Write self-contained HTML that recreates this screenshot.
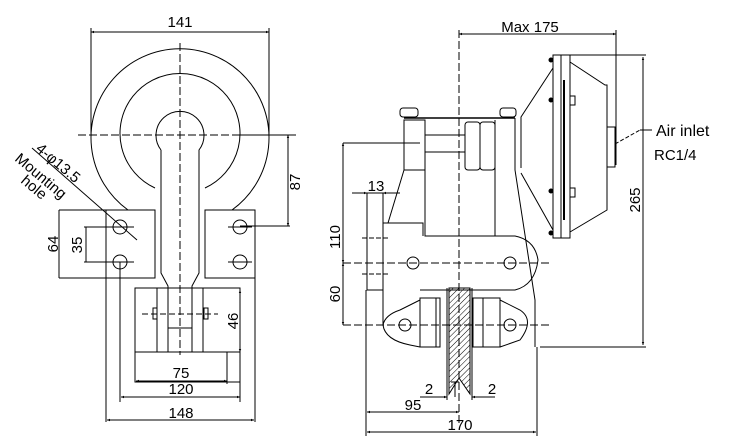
<!DOCTYPE html>
<html><head><meta charset="utf-8"><style>
html,body{margin:0;padding:0;background:#fff;}
svg{display:block}
text{font-family:"Liberation Sans",sans-serif;fill:#000}
</style></head><body>
<svg width="734" height="445" viewBox="0 0 734 445" xmlns="http://www.w3.org/2000/svg">
<defs>
<marker id="a" viewBox="0 0 10 10" refX="10" refY="5" markerWidth="5" markerHeight="3" orient="auto-start-reverse"><path d="M0,1 L10,5 L0,9z" fill="#000"/></marker>
<pattern id="h" width="4" height="4" patternUnits="userSpaceOnUse" patternTransform="rotate(45)"><line x1="0" y1="0" x2="0" y2="4" stroke="#000" stroke-width="1"/></pattern>
</defs>
<g fill="none" stroke="#000" stroke-width="1">
<line x1="91" y1="32" x2="269" y2="32" marker-start="url(#a)" marker-end="url(#a)"/>
<line x1="91" y1="28" x2="91" y2="134"/><line x1="269" y1="28" x2="269" y2="134"/>
<path d="M128,210 A89,89 0 1 1 232,210"/>
<path d="M155,188 A60,60 0 1 1 205,188"/>
<path d="M161,150 A24,24 0 1 1 199,150 L199,273 L192,286 L192,352 M161,150 L161,273 L168,286 L168,352"/>
<line x1="180" y1="43" x2="180" y2="355" stroke-dasharray="8,3"/>
<line x1="78" y1="135" x2="296" y2="135" stroke-dasharray="8,3"/>
<line x1="240" y1="135" x2="296" y2="135"/>
<rect x="106" y="210" width="49" height="68"/>
<line x1="59" y1="210" x2="106" y2="210"/><line x1="59" y1="278" x2="106" y2="278"/>
<rect x="205" y="210" width="50" height="68"/>
<line x1="106" y1="278" x2="106" y2="422"/>
<line x1="255" y1="278" x2="255" y2="422"/>
<circle cx="120" cy="227" r="7"/><circle cx="120" cy="262" r="7"/>
<circle cx="240" cy="227" r="7"/><circle cx="240" cy="262" r="7"/>
<line x1="108" y1="227" x2="134" y2="227"/><line x1="84" y1="262" x2="134" y2="262"/><line x1="84" y1="227" x2="108" y2="227"/>
<line x1="228" y1="227" x2="252" y2="227"/><line x1="228" y1="262" x2="252" y2="262"/>
<line x1="240" y1="226" x2="290" y2="226"/>
<line x1="288" y1="135" x2="288" y2="226" marker-start="url(#a)" marker-end="url(#a)"/>
<line x1="59" y1="210" x2="59" y2="278"/>
<line x1="86" y1="227" x2="86" y2="262"/>
<rect x="135" y="288" width="105" height="64"/>
<rect x="135" y="352" width="105" height="30"/>
<line x1="157" y1="288" x2="157" y2="352"/><line x1="203" y1="288" x2="203" y2="352"/>
<line x1="168" y1="328" x2="192" y2="328"/>
<line x1="142" y1="314" x2="218" y2="314" stroke-dasharray="6,3"/>
<rect x="153" y="308" width="4" height="11"/><rect x="204" y="308" width="4" height="11"/>
<line x1="240" y1="290" x2="240" y2="352" marker-start="url(#a)" marker-end="url(#a)"/>
<line x1="136" y1="381" x2="227" y2="381" marker-start="url(#a)" marker-end="url(#a)"/>
<line x1="227" y1="352" x2="227" y2="384"/>
<line x1="120" y1="262" x2="120" y2="402"/>
<line x1="121" y1="397" x2="240" y2="397" marker-start="url(#a)" marker-end="url(#a)"/>
<line x1="240" y1="382" x2="240" y2="402"/>
<line x1="107" y1="420" x2="254" y2="420" marker-start="url(#a)" marker-end="url(#a)"/>
<line x1="32" y1="148" x2="137" y2="240"/>
<line x1="459" y1="34" x2="616" y2="34" marker-start="url(#a)" marker-end="url(#a)"/>
<line x1="616" y1="30" x2="616" y2="165"/>
<line x1="459" y1="30" x2="459" y2="425" stroke-dasharray="8,3"/>
<rect x="553" y="55" width="17" height="183"/>
<line x1="561" y1="55" x2="561" y2="238"/><line x1="564" y1="80" x2="564" y2="220" stroke-width="2"/>
<path d="M570,62 L605,85 L607,85 L607,210 L570,232"/>
<path d="M553,68 L521,117 L521,168 M521,173 L553,230"/>
<rect x="607" y="127" width="8" height="40"/>
<g fill="#000"><circle cx="551" cy="60" r="2"/><circle cx="551" cy="100" r="2"/><circle cx="551" cy="191" r="2"/><circle cx="551" cy="233" r="2"/></g>
<rect x="570" y="96" width="5" height="9"/><rect x="570" y="188" width="5" height="9"/>
<line x1="570" y1="55" x2="646" y2="55"/>
<line x1="643" y1="57" x2="643" y2="345" marker-start="url(#a)" marker-end="url(#a)"/>
<line x1="540" y1="347" x2="646" y2="347"/>
<line x1="615" y1="144" x2="640" y2="130" stroke-dasharray="4,2"/>
<line x1="640" y1="130" x2="652" y2="130"/>
<rect x="400" y="108" width="18" height="9" rx="3"/><rect x="500" y="108" width="16" height="9" rx="3"/>
<line x1="404" y1="118" x2="515" y2="118" stroke-width="1.5"/>
<rect x="404" y="120" width="21" height="50"/>
<path d="M425,120 L425,236 L495,236 L495,120"/>
<path d="M515,118 L515,170 L535,300 L535,347"/>
<rect x="465" y="122" width="15" height="48" rx="3"/><rect x="480" y="122" width="15" height="48" rx="3"/>
<path d="M425,135 L465,135 M425,152 L465,152"/>
<line x1="343" y1="143" x2="420" y2="143"/>
<line x1="343" y1="143" x2="343" y2="263" marker-start="url(#a)" marker-end="url(#a)"/>
<line x1="343" y1="263" x2="343" y2="325" marker-start="url(#a)" marker-end="url(#a)"/>
<path d="M404,170 L388,223 L383,223"/>
<rect x="367" y="193" width="16" height="97"/>
<path d="M383,223 L423,223 L423,236 M495,236 L515,236 Q535,240 538,260 Q535,285 515,290 L420,290"/>
<circle cx="413" cy="263" r="6"/><circle cx="510" cy="263" r="6"/>
<line x1="343" y1="263" x2="550" y2="263" stroke-dasharray="8,3"/>
<line x1="362" y1="238" x2="388" y2="238" stroke-dasharray="5,2"/><line x1="362" y1="274" x2="388" y2="274" stroke-dasharray="5,2"/>
<path d="M383,290 L383,325 Q385,340 410,345 L420,347 M383,325 Q385,315 400,310 L420,300"/>
<rect x="420" y="298" width="20" height="49"/><rect x="473" y="298" width="27" height="49"/>
<line x1="436" y1="298" x2="436" y2="347"/><line x1="483" y1="298" x2="483" y2="347"/>
<path d="M500,300 L520,310 Q535,320 520,340 L500,347"/>
<circle cx="405" cy="325" r="6"/><circle cx="510" cy="325" r="6"/>
<line x1="343" y1="325" x2="550" y2="325" stroke-dasharray="8,3"/>
<path d="M449,288 L470,288 L470,394 L459,378 L449,394 Z" fill="url(#h)"/>
<line x1="447" y1="288" x2="447" y2="400"/><line x1="472" y1="288" x2="472" y2="400"/>
<path d="M455,382 L455,397 M451,382 L459,382"/>
<line x1="352" y1="193" x2="367" y2="193" marker-end="url(#a)"/><line x1="400" y1="193" x2="383" y2="193" marker-end="url(#a)"/>
<line x1="420" y1="397" x2="447" y2="397" marker-end="url(#a)"/><line x1="495" y1="397" x2="472" y2="397" marker-end="url(#a)"/>
<line x1="366" y1="290" x2="366" y2="436"/><line x1="537" y1="347" x2="537" y2="436"/>
<line x1="367" y1="412" x2="459" y2="412" marker-start="url(#a)" marker-end="url(#a)"/>
<line x1="367" y1="432" x2="536" y2="432" marker-start="url(#a)" marker-end="url(#a)"/>
</g>
<g font-size="15">
<text x="180" y="27" text-anchor="middle">141</text>
<text x="300" y="182" transform="rotate(-90 300 182)" text-anchor="middle">87</text>
<text x="58" y="244" transform="rotate(-90 58 244)" text-anchor="middle">64</text>
<text x="82" y="245" transform="rotate(-90 82 245)" text-anchor="middle">35</text>
<text x="238" y="321" transform="rotate(-90 238 321)" text-anchor="middle">46</text>
<text x="181" y="378" text-anchor="middle">75</text>
<text x="181" y="394" text-anchor="middle">120</text>
<text x="181" y="418" text-anchor="middle">148</text>
<text x="35" y="150" transform="rotate(40 35 150)">4-φ13.5</text>
<text x="14" y="160" transform="rotate(40 14 160)">Mounting</text>
<text x="20" y="182" transform="rotate(40 20 182)">hole</text>
<text x="530" y="32" text-anchor="middle">Max 175</text>
<text x="656" y="136" font-size="16">Air inlet</text>
<text x="654" y="160">RC1/4</text>
<text x="640" y="200" transform="rotate(-90 640 200)" text-anchor="middle">265</text>
<text x="376" y="191" text-anchor="middle">13</text>
<text x="340" y="237" transform="rotate(-90 340 237)" text-anchor="middle">110</text>
<text x="340" y="294" transform="rotate(-90 340 294)" text-anchor="middle">60</text>
<text x="429" y="394" text-anchor="middle">2</text>
<text x="492" y="394" text-anchor="middle">2</text>
<text x="413" y="410" text-anchor="middle">95</text>
<text x="460" y="430" text-anchor="middle">170</text>
</g>
</svg>
</body></html>
